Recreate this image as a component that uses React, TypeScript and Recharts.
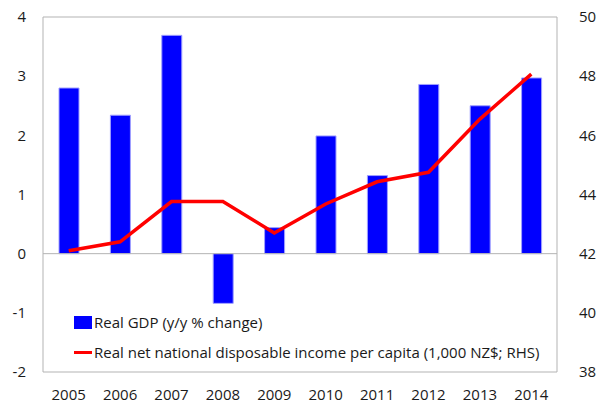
import { ComposedChart, Bar, Line, XAxis, YAxis, ReferenceLine } from "recharts";

const years = ["2005", "2006", "2007", "2008", "2009", "2010", "2011", "2012", "2013", "2014"];
const realGdp = [2.8, 2.34, 3.69, -0.84, 0.44, 1.99, 1.32, 2.86, 2.5, 2.97];
const disposableIncome = [42.1, 42.4, 43.76, 43.76, 42.7, 43.68, 44.43, 44.75, 46.55, 48.07];
const leftTicks = [-2, -1, 0, 1, 2, 3, 4];
const rightTicks = [38, 40, 42, 44, 46, 48, 50];

const gdpLabel = "Real GDP (y/y % change)";
const incomeLabel = "Real net national disposable income per capita (1,000 NZ$; RHS)";

const font = "'Open Sans', 'Noto Sans', sans-serif";
const tickStyle = { fontSize: 15, fill: "#1a1a1a", fontFamily: font };
const border = "#b3b3b3";

const data = years.map((year, i) => ({ year, gdp: realGdp[i], income: disposableIncome[i] }));

// legend sits inside the plot area, lower left
function LegendBox() {
  return (
    <div
      style={{
        position: "absolute",
        left: 74,
        top: 307,
        fontFamily: font,
        fontSize: 15,
        color: "#1a1a1a",
        whiteSpace: "nowrap",
      }}
    >
      <div style={{ display: "flex", alignItems: "center", height: 30 }}>
        <span style={{ display: "inline-block", width: 18, height: 13, background: "#0000ff", marginRight: 2 }} />
        {gdpLabel}
      </div>
      <div style={{ display: "flex", alignItems: "center", height: 30 }}>
        <span style={{ display: "inline-block", width: 18, height: 3, background: "#ff0000", marginRight: 2 }} />
        {incomeLabel}
      </div>
    </div>
  );
}

export default function App() {
  return (
    <div style={{ position: "absolute", left: 0, top: 0, width: 597, height: 403, background: "#fff" }}>
      <ComposedChart width={597} height={403} data={data} margin={{ top: 17, right: 0, left: 0, bottom: 0 }}>
        <XAxis
          dataKey="year"
          height={31}
          tick={tickStyle}
          tickLine={false}
          axisLine={{ stroke: border }}
          tickMargin={11}
        />
        <YAxis
          yAxisId="left"
          width={43}
          domain={[-2, 4]}
          ticks={leftTicks}
          tick={tickStyle}
          tickLine={false}
          axisLine={{ stroke: border }}
          tickMargin={11}
        />
        <YAxis
          yAxisId="right"
          orientation="right"
          width={40}
          domain={[38, 50]}
          ticks={rightTicks}
          tick={{ ...tickStyle, textAnchor: "start" }}
          tickLine={false}
          axisLine={{ stroke: border }}
          tickMargin={16}
        />
        <ReferenceLine yAxisId="left" y={4} stroke={border} />
        <ReferenceLine yAxisId="left" y={0} stroke={border} />
        <Bar
          yAxisId="left"
          dataKey="gdp"
          name={gdpLabel}
          fill="#0000ff"
          stroke="#a0a0ff"
          strokeWidth={1}
          barSize={20}
          isAnimationActive={false}
        />
        <Line
          yAxisId="right"
          type="linear"
          dataKey="income"
          name={incomeLabel}
          stroke="#ff0000"
          strokeWidth={3.5}
          dot={false}
          isAnimationActive={false}
        />
      </ComposedChart>
      <LegendBox />
    </div>
  );
}
